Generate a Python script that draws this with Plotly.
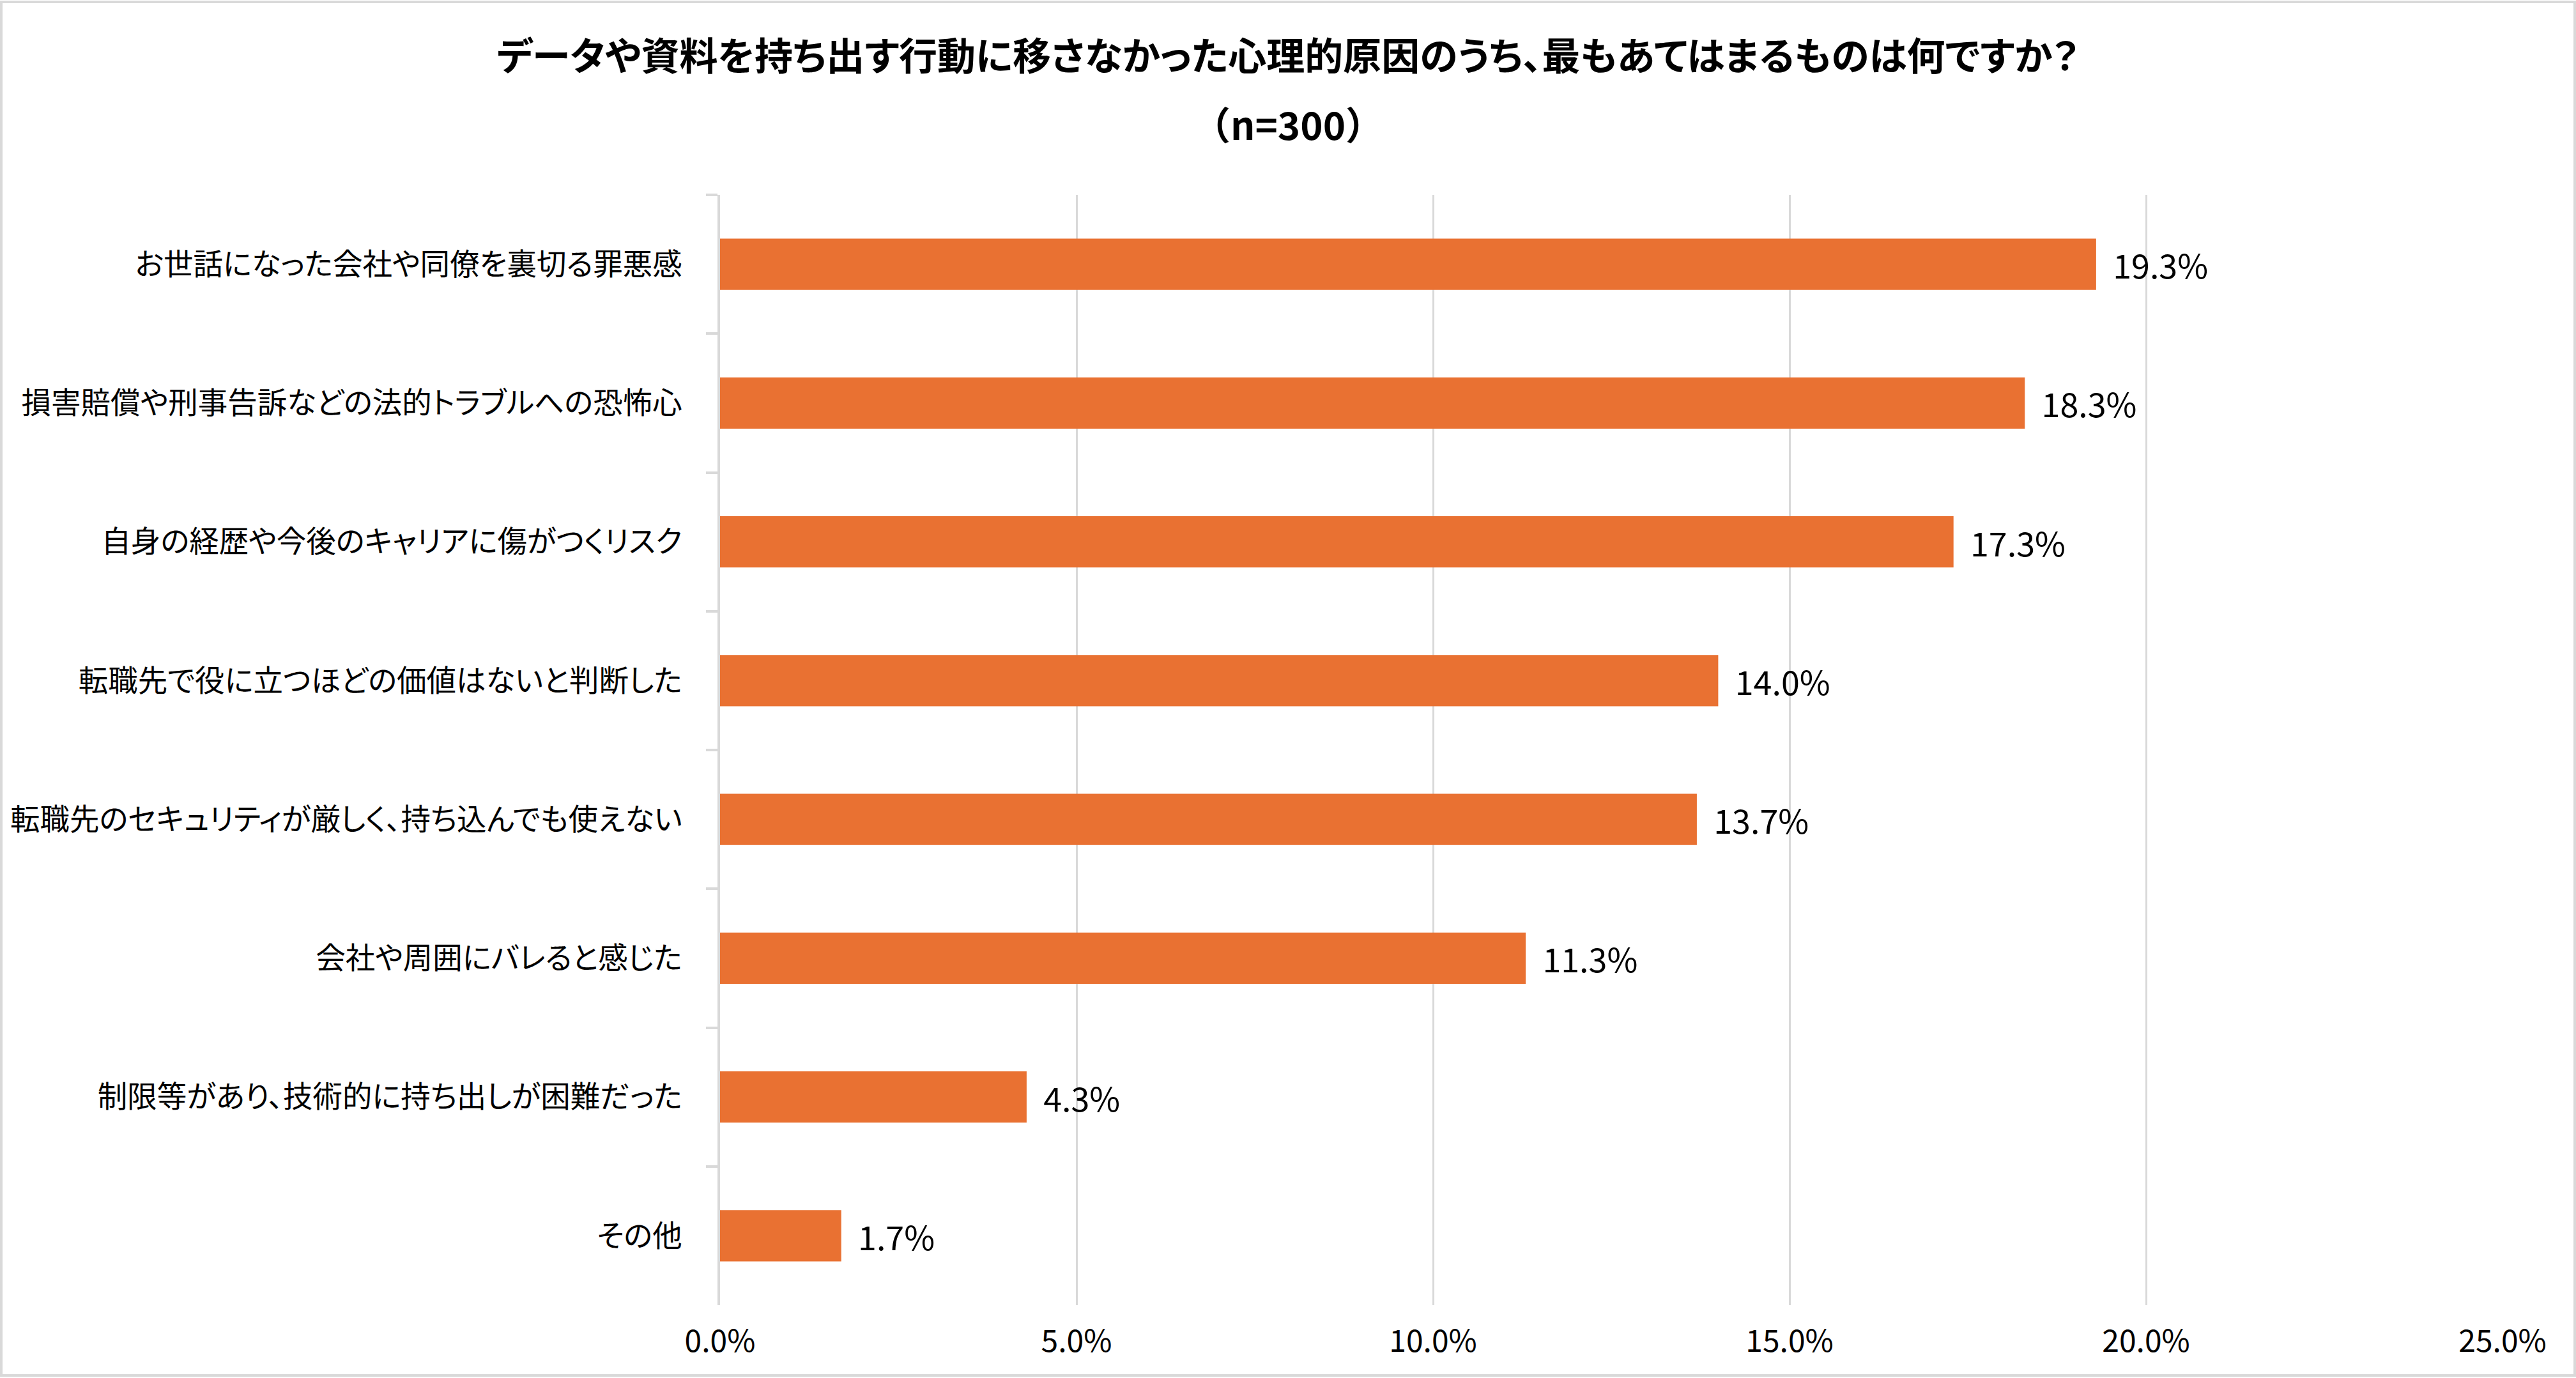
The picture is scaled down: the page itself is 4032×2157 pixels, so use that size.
import plotly.graph_objects as go

# survey answers, top to bottom as shown
categories = [
    "お世話になった会社や同僚を裏切る罪悪感",
    "損害賠償や刑事告訴などの法的トラブルへの恐怖心",
    "自身の経歴や今後のキャリアに傷がつくリスク",
    "転職先で役に立つほどの価値はないと判断した",
    "転職先のセキュリティが厳しく、持ち込んでも使えない",
    "会社や周囲にバレると感じた",
    "制限等があり、技術的に持ち出しが困難だった",
    "その他",
]
shares = [19.3, 18.3, 17.3, 14.0, 13.7, 11.3, 4.3, 1.7]
x_ticks = [0, 5, 10, 15, 20, 25]

title_line1 = "データや資料を持ち出す行動に移さなかった心理的原因のうち、最もあてはまるものは何ですか？"
title_line2 = "（n=300）"

W, H = 4032, 2157
ML, MR, MT, MB = 1127, 115, 305, 114
FONT = "Noto Sans CJK JP"
GRID = "#D9D9D9"

fig = go.Figure(
    go.Bar(
        x=shares,
        y=categories,
        orientation="h",
        marker=dict(color="#E97132", line=dict(width=0)),
        text=[f"  {v:.1f}%" for v in shares],
        textposition="outside",
        textfont=dict(family=FONT, size=52, color="#000000"),
        cliponaxis=False,
    )
)

pw = W - ML - MR
ph = H - MT - MB

fig.update_layout(
    width=W,
    height=H,
    margin=dict(l=ML, r=MR, t=MT, b=MB, autoexpand=False),
    paper_bgcolor="white",
    plot_bgcolor="white",
    bargap=0.63,
    showlegend=False,
    font=dict(family=FONT, color="#000000"),
    annotations=[
        dict(text="<b>" + title_line1 + "</b>", xref="paper", yref="paper",
             x=(W / 2 - ML) / pw, y=1 + (MT - 84) / ph, showarrow=False,
             xanchor="center", yanchor="middle",
             font=dict(family=FONT, size=60, color="#000000")),
        dict(text="<b>" + title_line2 + "</b>", xref="paper", yref="paper",
             x=(W / 2 - ML) / pw, y=1 + (MT - 193) / ph, showarrow=False,
             xanchor="center", yanchor="middle",
             font=dict(family=FONT, size=60, color="#000000")),
    ],
    shapes=[
        dict(type="rect", xref="paper", yref="paper",
             x0=(2 - ML) / pw, x1=(W - 2 - ML) / pw,
             y0=-(MB - 4) / ph, y1=1 + (MT - 3) / ph,
             line=dict(color=GRID, width=4), fillcolor="rgba(0,0,0,0)", layer="below"),
    ],
)

fig.update_xaxes(
    automargin=False,
    range=[0, 25],
    tickvals=x_ticks,
    ticktext=[f"{v:.1f}%" for v in x_ticks],
    showgrid=True,
    gridcolor=GRID,
    gridwidth=3,
    zeroline=False,
    showline=False,
    ticks="",
    tickfont=dict(family=FONT, size=48, color="#000000"),
    ticklabelstandoff=24,
)

fig.update_yaxes(
    automargin=False,
    categoryorder="array",
    categoryarray=categories,
    autorange="reversed",
    showline=True,
    linecolor=GRID,
    linewidth=4,
    ticks="outside",
    tickson="boundaries",
    ticklen=18,
    tickcolor=GRID,
    tickwidth=4,
    showgrid=False,
    tickfont=dict(family=FONT, size=46.5, color="#000000"),
    ticklabelstandoff=46,
)

# proportional kana (like the original UI font) for the category labels and first title line
js = """
document.body.style.margin = '0';
var palt = function (t) { t.style.fontFeatureSettings = '"palt"'; };
document.querySelectorAll('.ytick text').forEach(palt);
var ann = document.querySelectorAll('.annotation-text');
if (ann.length) { palt(ann[0]); }
"""
fig.write_html("out.html", config={"displayModeBar": False}, post_script=js)
